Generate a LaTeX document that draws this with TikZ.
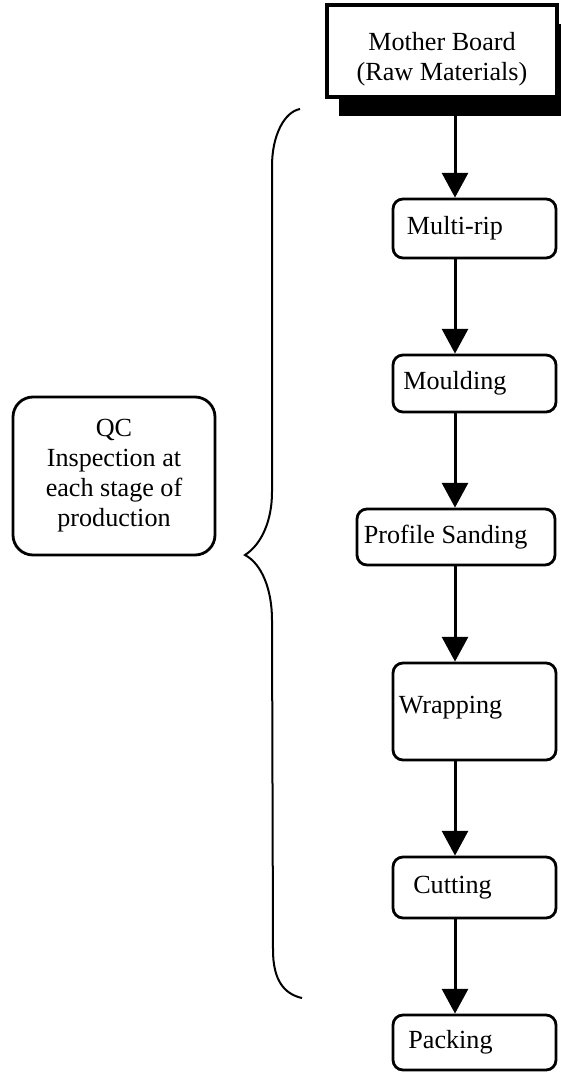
\documentclass[tikz,border=0pt]{standalone}
\usepackage{fontspec}
\setmainfont{Liberation Serif}
\usetikzlibrary{arrows.meta, shadows}

\newcommand{\stagefont}{\fontsize{18.6}{21.3}\selectfont}

\begin{document}
\begin{tikzpicture}[>={Triangle[length=0.62cm, width=0.65cm]},
    every node/.style={font=\stagefont, align=center},
    stage/.style={draw, line width=0.07cm, rounded corners=0.25cm, minimum width=4.075cm},
    flow/.style={->, line width=0.075cm}]

    \useasboundingbox (0,0) rectangle (14,-26.825);

    % column of the arrows
    \coordinate (col) at (11.375,0);

    \node[draw, line width=0.08cm, fill=white, minimum width=5.75cm, minimum height=2.3cm,
          drop shadow={shadow xshift=0.3cm, shadow yshift=-0.47cm, fill=black, opacity=1},
          label={[yshift=-0.2cm]center:Mother Board\\(Raw Materials)}]
          (board) at (11.05,-1.275) {};

    \node[stage, minimum height=1.475cm, label={[xshift=-0.49cm]center:Multi-rip}] (rip) at (11.8625,-5.7125) {};
    \node[stage, minimum height=1.425cm, label={[xshift=-0.49cm]center:Moulding}] (mould) at (11.8625,-9.5875) {};
    \node[stage, minimum width=4.95cm, minimum height=1.4cm, label={[xshift=-0.26cm]center:Profile Sanding}] (sand) at (11.4,-13.425) {};
    \node[stage, minimum height=2.425cm, label={[xshift=-0.6cm, yshift=0.1cm]center:Wrapping}] (wrap) at (11.8625,-17.7875) {};
    \node[stage, minimum height=1.525cm, label={[xshift=-0.55cm]center:Cutting}] (cut) at (11.8625,-22.1875) {};
    \node[stage, minimum height=1.375cm, label={[xshift=-0.6cm]center:Packing}] (pack) at (11.8625,-26.0625) {};

    \draw[flow] (board.south -| col) -- (rip.north -| col);
    \draw[flow] (rip.south -| col) -- (mould.north -| col);
    \draw[flow] (mould.south -| col) -- (sand.north -| col);
    \draw[flow] (sand.south -| col) -- (wrap.north -| col);
    \draw[flow] (wrap.south -| col) -- (cut.north -| col);
    \draw[flow] (cut.south -| col) -- (pack.north -| col);

    % quality control note
    \node[draw, line width=0.07cm, rounded corners=0.5cm, minimum width=5.05cm, minimum height=3.95cm]
          (qc) at (2.85,-11.9) {QC\\Inspection at\\each stage of\\production};

    % brace over the stages
    \draw[line width=0.05cm]
        (7.5,-2.725) .. controls (7.1,-2.8) and (6.8,-3.4) .. (6.8,-4.15)
        -- (6.8,-12.3) .. controls (6.8,-13.0) and (6.55,-13.6) .. (6.125,-13.875)
        .. controls (6.55,-14.1) and (6.8,-14.75) .. (6.8,-15.5)
        -- (6.825,-23.75) .. controls (6.825,-24.5) and (7.1,-24.85) .. (7.55,-24.95);

\end{tikzpicture}
\end{document}
